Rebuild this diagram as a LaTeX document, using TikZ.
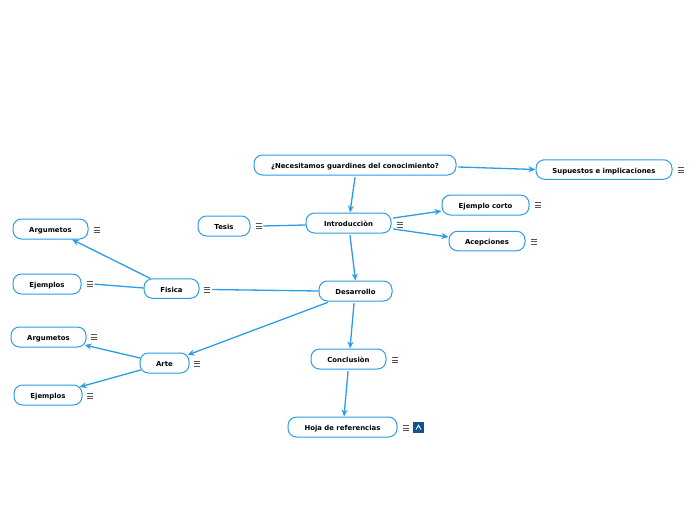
\documentclass[tikz,border=0pt]{standalone}
\usepackage{fontspec}
\setmainfont{DejaVu Sans}
\usetikzlibrary{arrows.meta}
\definecolor{linkblue}{HTML}{2A9DE4}
\definecolor{icongray}{HTML}{555555}
\definecolor{attach}{HTML}{14528F}
\tikzset{
  topic/.style={draw=linkblue,line width=1pt,rounded corners=8.5pt,fill=white,inner sep=0pt,
    font=\fontsize{6.9}{7}\selectfont\bfseries,text=black,minimum height=#1,text height=8pt,text depth=1pt},
  topic/.default=20pt,
  conn/.style={draw=linkblue,line width=1.3pt,line cap=round},
  arr/.style={conn,-{Stealth[length=7pt,width=6pt]}},
  menu/.style={minimum width=6.5pt,minimum height=6.5pt,inner sep=0pt,
    path picture={
      \foreach \yy in {-2.4pt,0pt,2.4pt}{
        \draw[icongray,line width=0.7pt]
          ([xshift=-3pt,yshift=\yy]path picture bounding box.center) --
          ([xshift=3pt,yshift=\yy]path picture bounding box.center);}
    }},
  attachbox/.style={minimum width=11pt,minimum height=11pt,inner sep=0pt,fill=attach,
    path picture={
      \draw[white,line width=0.9pt]
        ([xshift=-2.5pt,yshift=-2pt]path picture bounding box.center) --
        ([yshift=2.2pt]path picture bounding box.center) --
        ([xshift=2.5pt,yshift=-2pt]path picture bounding box.center);
    }},
}
\begin{document}
\begin{tikzpicture}[x=1pt,y=-1pt]
\useasboundingbox (0,0) rectangle (696,520);
% topics
\node[topic,minimum width=202pt] (q) at (355,165) {¿Necesitamos guardines del conocimiento?};
\node[topic=19.5pt,minimum width=136pt] (sup) at (604,169.5) {Supuestos e implicaciones};
\node[topic,minimum width=87pt] (ejc) at (485.5,205) {Ejemplo corto};
\node[topic=19.5pt,minimum width=76pt] (ace) at (487,241) {Acepciones};
\node[topic,minimum width=85pt] (intro) at (348.5,223) {Introducciòn};
\node[topic,minimum width=52pt] (tes) at (224,226) {Tesis};
\node[topic,minimum width=73pt] (des) at (355.5,291) {Desarrollo};
\node[topic=19.5pt,minimum width=55pt] (fis) at (171.5,288.5) {Fisica};
\node[topic,minimum width=75pt] (arg) at (50.5,229) {Argumetos};
\node[topic,minimum width=68pt] (eje) at (47,284) {Ejemplos};
\node[topic,minimum width=75pt] (arg2) at (48.5,337) {Argumetos};
\node[topic,minimum width=68pt] (eje2) at (48,395) {Ejemplos};
\node[topic,minimum width=49pt] (art) at (164.5,363) {Arte};
\node[topic,minimum width=75pt] (con) at (348.5,359) {Conclusiòn};
\node[topic,minimum width=109pt] (hoj) at (342.5,427) {Hoja de referencias};
% menu icons
\node[menu] (msup) at (681,170) {};
\node[menu] (mejc) at (537.5,205) {};
\node[menu] (mace) at (534,241.5) {};
\node[menu] (mintro) at (400,224.5) {};
\node[menu] (mtes) at (258.5,226) {};
\node[menu] (mfis) at (207,289.5) {};
\node[menu] (marg) at (96.5,230) {};
\node[menu] (meje) at (89.5,284) {};
\node[menu] (marg2) at (93.5,337) {};
\node[menu] (meje2) at (89.5,396) {};
\node[menu] (mart) at (197,363.5) {};
\node[menu] (mcon) at (395,360) {};
\node[menu] (mhoj) at (406,428) {};
\node[attachbox] (att) at (418.5,427.5) {};
% connectors
\draw[arr] ([xshift=0pt,yshift=-2pt]q.south) -- ([xshift=1.5pt]intro.north);
\draw[arr] ([xshift=2pt,yshift=-2pt]q.east) -- (sup.west);
\draw[arr] ([xshift=2pt,yshift=5pt]intro.east) -- ([yshift=-6pt]ejc.west);
\draw[arr] ([xshift=2pt,yshift=-6pt]intro.east) -- ([yshift=4pt]ace.west);
\draw[arr] ([xshift=1.5pt,yshift=-2pt]intro.south) -- (des.north);
\draw[conn,shorten >=1.5pt] ([yshift=-2pt]intro.west) -- (mtes.east);
\draw[conn,shorten >=2pt] (des.west) -- (mfis.east);
\draw[arr] ([xshift=-21.5pt]fis.north) -- ([xshift=21.5pt]arg.south);
\draw[conn,shorten >=2pt] ([yshift=0.5pt]fis.west) -- (meje.east);
\draw[arr] ([xshift=-28pt,yshift=-1pt]des.south) -- ([xshift=-2pt,yshift=8pt]art.east);
\draw[arr] ([xshift=0.5pt,yshift=5pt]art.west) -- ([xshift=-2pt,yshift=-8pt]arg2.east);
\draw[arr] ([xshift=1pt,yshift=-7pt]art.west) -- ([xshift=-3pt,yshift=8pt]eje2.east);
\draw[arr] ([xshift=-1.5pt,yshift=-2pt]des.south) -- ([xshift=1.5pt]con.north);
\draw[arr] ([xshift=-0.5pt,yshift=-2pt]con.south) -- ([xshift=1.5pt]hoj.north);
\end{tikzpicture}
\end{document}
